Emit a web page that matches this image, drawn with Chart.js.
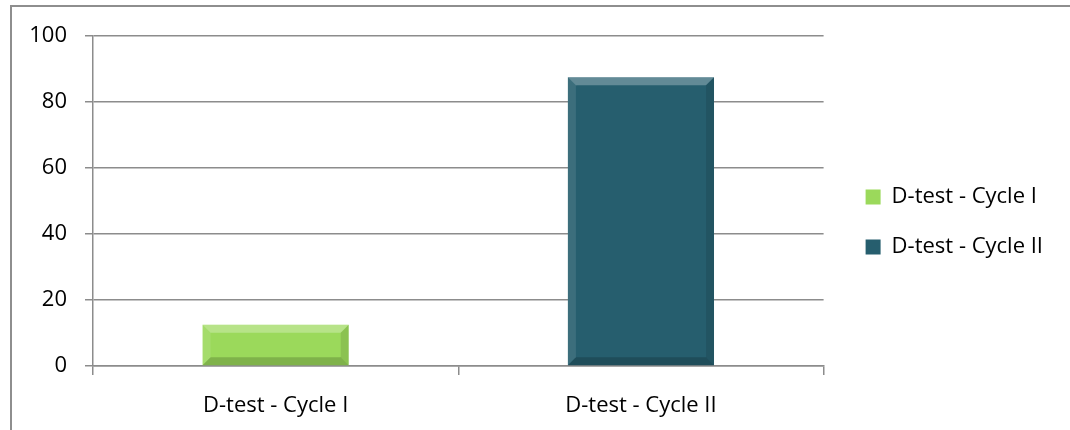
<!DOCTYPE html>
<html><head><meta charset="utf-8">
<script src="https://cdn.jsdelivr.net/npm/chart.js@4"></script>
<style>
html,body{margin:0;padding:0;background:#fff;overflow:hidden}
#frame{position:absolute;left:10px;top:5px;width:1060px;height:425px;border-left:2px solid #8e8e8e;border-top:2px solid #8e8e8e;box-sizing:border-box}
#wrap{position:absolute;left:0;top:0;width:1070px;height:430px}
</style></head>
<body>
<div id="frame"></div>
<div id="wrap"><canvas id="c" width="1070" height="430"></canvas></div>
<script>
const categories = ["D-test - Cycle I", "D-test - Cycle II"];
const values = [12.5, 87.5];
const yTicks = [0, 20, 40, 60, 80, 100];
const barColors = ["#9BD95B", "#265E6E"];

const FONT = "'Open Sans', sans-serif";
Chart.defaults.font.family = FONT;
Chart.defaults.color = "#000";

function drawBevel(ctx, x0, x1, top, bot, b) {
  ctx.save();
  ctx.fillStyle = 'rgba(255,255,255,0.28)';
  ctx.beginPath(); ctx.moveTo(x0, top); ctx.lineTo(x1, top); ctx.lineTo(x1-b, top+b); ctx.lineTo(x0+b, top+b); ctx.closePath(); ctx.fill();
  ctx.fillStyle = 'rgba(255,255,255,0.10)';
  ctx.beginPath(); ctx.moveTo(x0, top); ctx.lineTo(x0+b, top+b); ctx.lineTo(x0+b, bot-b); ctx.lineTo(x0, bot); ctx.closePath(); ctx.fill();
  ctx.fillStyle = 'rgba(0,0,0,0.10)';
  ctx.beginPath(); ctx.moveTo(x1, top); ctx.lineTo(x1-b, top+b); ctx.lineTo(x1-b, bot-b); ctx.lineTo(x1, bot); ctx.closePath(); ctx.fill();
  ctx.fillStyle = 'rgba(0,0,0,0.18)';
  ctx.beginPath(); ctx.moveTo(x0, bot); ctx.lineTo(x1, bot); ctx.lineTo(x1-b, bot-b); ctx.lineTo(x0+b, bot-b); ctx.closePath(); ctx.fill();
  ctx.restore();
}

const bevel = {
  id: 'bevel',
  afterLayout(chart) {
    // gap between plot area and legend, and legend raised a little, as in the original
    const lg = chart.legend;
    if (lg) { lg.left += 14; lg.right += 14; lg.top -= 11; lg.bottom -= 11; }
  },
  afterDatasetsDraw(chart) {
    const ctx = chart.ctx;
    const meta = chart.getDatasetMeta(0);
    meta.data.forEach((bar) => {
      const w = bar.width, x0 = bar.x - w/2, x1 = bar.x + w/2;
      const top = Math.min(bar.y, bar.base), bot = Math.max(bar.y, bar.base);
      drawBevel(ctx, x0, x1, top, bot, Math.min(8, (bot - top)/2));
    });
  }
};

new Chart(document.getElementById('c'), {
  type: 'bar',
  data: {
    labels: categories,
    datasets: [{
      data: values,
      backgroundColor: barColors,
      borderWidth: 0,
      categoryPercentage: 1,
      barPercentage: 0.4
    }]
  },
  options: {
    responsive: false,
    animation: false,
    layout: { padding: { top: 36, bottom: 0, left: 0, right: 31 } },
    scales: {
      x: {
        afterFit(s) { s.height = 64; },
        grid: { display: true, drawOnChartArea: false, drawTicks: true, tickLength: 9, color: '#8c8c8c', lineWidth: 1.5, offset: true },
        border: { display: true, color: '#8c8c8c', width: 1.5 },
        ticks: { font: { size: 22 }, padding: 18, color: '#000' }
      },
      y: {
        min: 0, max: 100,
        afterBuildTicks(s) { s.ticks = yTicks.map(v => ({ value: v })); },
        afterFit(s) { s.width = 93; },
        grid: { color: '#8c8c8c', lineWidth: 1.5, tickLength: 8, drawTicks: true },
        border: { display: true, color: '#8c8c8c', width: 1.5 },
        ticks: { font: { size: 22 }, padding: 18, color: '#000' }
      }
    },
    plugins: {
      tooltip: { enabled: false },
      legend: {
        position: 'right',
        labels: {
          font: { size: 22 },
          boxWidth: 15, boxHeight: 15,
          padding: 28,
          color: '#000',
          generateLabels(chart) {
            return categories.map((c, i) => ({
              text: c, fillStyle: barColors[i], strokeStyle: barColors[i], lineWidth: 0, hidden: false, index: i
            }));
          }
        }
      }
    }
  },
  plugins: [bevel]
});
</script>
</body></html>
